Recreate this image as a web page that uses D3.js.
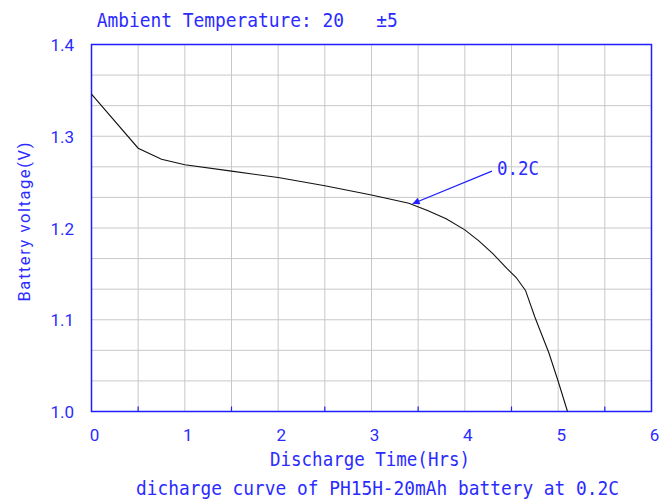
<html lang="en">
<head>
  <meta http-equiv="Content-Type" content="text/html; charset=UTF-8">
  <title>Discharge curve</title>
  <script type="text/javascript" src="https://cdn.jsdelivr.net/npm/d3@7/dist/d3.min.js"></script>
  <style type="text/css">
    body { margin: 0; background: #fff; }
    text { white-space: pre; }
  </style>
</head>
<body>
  <script type="text/javascript">
    // discharge curve (hours, volts)
    var hours = [0, 0.5, 0.75, 1.0, 1.5, 2.0, 2.5, 3.0, 3.4, 3.6, 3.8, 4.0, 4.15, 4.3, 4.45, 4.55, 4.65, 4.75, 4.9, 5.0, 5.1];
    var volts = [1.346, 1.287, 1.275, 1.269, 1.262, 1.255, 1.246, 1.236, 1.227, 1.219, 1.210, 1.198, 1.186, 1.172, 1.156, 1.146, 1.132, 1.103, 1.064, 1.033, 1.000];
    var xTickValues = [0, 1, 2, 3, 4, 5, 6];
    var yTickValues = [1.0, 1.1, 1.2, 1.3, 1.4];
    var seriesLabel = "0.2C";
    var labelAt = [4.29, 1.262];   // where the 0.2C label / arrow start sits
    var arrowTo = [3.44, 1.2265];  // point on the curve the arrow hits

    var titleText = "Ambient Temperature: 20   \u00b15";
    var xTitle = "Discharge Time(Hrs)";
    var yTitle = "Battery voltage(V)";
    var caption = "dicharge curve of PH15H-20mAh battery at 0.2C";

    var blue = "#1f1fff";
    var textBlue = "#2b2bff";
    var mono = "'DejaVu Sans Mono', monospace";
    var sans = "Roboto, 'Liberation Sans', sans-serif";

    var svg = d3.select("body").append("svg").attr("width", 668).attr("height", 503);

    var x = d3.scaleLinear().domain([0, 6]).range([91.5, 651.5]);
    var y = d3.scaleLinear().domain([1.0, 1.4]).range([411.5, 44.5]);

    // grid: every half hour, 12 steps in voltage
    var xGrid = d3.range(0, 13).map(function(i) { return i * 0.5; });
    var yGrid = d3.range(0, 13).map(function(i) { return 1.0 + i * 0.4 / 12; });

    svg.append("g").selectAll("line").data(xGrid).enter().append("line")
      .attr("x1", function(d) { return x(d); })
      .attr("x2", function(d) { return x(d); })
      .attr("y1", y(1.0)).attr("y2", y(1.4))
      .attr("stroke", "#c8c8c8").attr("stroke-width", 1);

    svg.append("g").selectAll("line").data(yGrid).enter().append("line")
      .attr("y1", function(d) { return y(d); })
      .attr("y2", function(d) { return y(d); })
      .attr("x1", x(0)).attr("x2", x(6))
      .attr("stroke", "#c8c8c8").attr("stroke-width", 1);

    // small blue ticks on the bottom axis at the half hours
    svg.append("g").selectAll("line").data(xGrid.filter(function(d) { return d % 1 !== 0; })).enter().append("line")
      .attr("x1", function(d) { return x(d); })
      .attr("x2", function(d) { return x(d); })
      .attr("y1", y(1.0)).attr("y2", y(1.0) - 5)
      .attr("stroke", blue).attr("stroke-width", 1.2);

    svg.append("rect")
      .attr("x", x(0)).attr("y", y(1.4))
      .attr("width", x(6) - x(0)).attr("height", y(1.0) - y(1.4))
      .attr("fill", "none").attr("stroke", blue).attr("stroke-width", 1.5);

    var line = d3.line()
      .x(function(d, i) { return x(hours[i]); })
      .y(function(d) { return y(d); });
    svg.append("path")
      .attr("d", line(volts))
      .attr("fill", "none").attr("stroke", "#111").attr("stroke-width", 1.1);

    // tick labels
    svg.append("g").selectAll("text").data(xTickValues).enter().append("text")
      .attr("x", function(d) { return x(d) + 3; })
      .attr("y", 441)
      .attr("text-anchor", "middle")
      .style("font-family", sans).style("font-size", "17px").attr("fill", textBlue)
      .text(function(d) { return d; });

    svg.append("g").selectAll("text").data(yTickValues).enter().append("text")
      .attr("x", 74)
      .attr("y", function(d) { return y(d) + 6.5; })
      .attr("text-anchor", "end")
      .style("font-family", sans).style("font-size", "17px").attr("fill", textBlue)
      .text(function(d) { return d.toFixed(1); });

    // monospace texts, stretched a bit in height like the original
    function monoText(str, x0, y0, len) {
      return svg.append("text")
        .attr("transform", "translate(" + x0 + "," + y0 + ") scale(1,1.15)")
        .attr("textLength", len).attr("lengthAdjust", "spacingAndGlyphs")
        .style("font-family", mono).style("font-size", "17.6px").attr("fill", textBlue)
        .text(str);
    }

    monoText(titleText, 96.7, 26.7, 301);
    monoText(xTitle, 270, 466, 200);
    monoText(caption, 136, 495, 483);

    svg.append("text")
      .attr("transform", "translate(29.5,222) rotate(-90)")
      .attr("text-anchor", "middle")
      .attr("textLength", 159).attr("lengthAdjust", "spacing")
      .style("font-family", sans).style("font-size", "16.5px").attr("fill", textBlue)
      .text(yTitle);

    // 0.2C label with arrow
    svg.append("defs").append("marker")
      .attr("id", "arrow")
      .attr("viewBox", "0 0 10 10").attr("refX", 10).attr("refY", 5)
      .attr("markerWidth", 9).attr("markerHeight", 7)
      .attr("markerUnits", "userSpaceOnUse")
      .attr("orient", "auto")
      .append("path").attr("d", "M0,0 L10,5 L0,10 z").attr("fill", blue);

    svg.append("line")
      .attr("x1", x(labelAt[0])).attr("y1", y(labelAt[1]))
      .attr("x2", x(arrowTo[0])).attr("y2", y(arrowTo[1]))
      .attr("stroke", blue).attr("stroke-width", 1.2)
      .attr("marker-end", "url(#arrow)");

    monoText(seriesLabel, x(labelAt[0]) + 5, 175, 42);
  </script>
</body>
</html>
